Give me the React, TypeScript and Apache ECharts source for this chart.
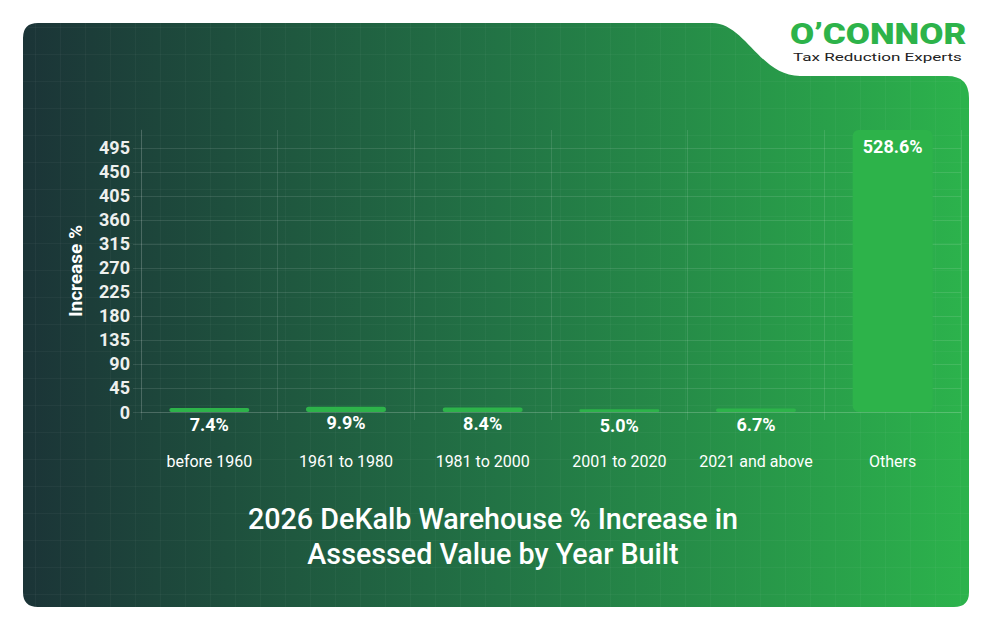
import React, { useEffect, useRef } from 'react';
import * as echarts from 'echarts';

// ---- data ----
const categories = ['before 1960', '1961 to 1980', '1981 to 2000', '2001 to 2020', '2021 and above', 'Others'];
const increasePct = [7.4, 9.9, 8.4, 5.0, 6.7, 528.6];
const yAxisMax = 528.6;
const yTickStep = 45;
const yAxisName = 'Increase %';
const titleLines = ['2026 DeKalb Warehouse % Increase in', 'Assessed Value by Year Built'];
const brandName = 'O\u2019CONNOR';
const brandTagline = 'Tax Reduction Experts';

// ---- card background with the logo notch in the top-right ----
const CARD = { left: 23, top: 23, right: 969, bottom: 607 };
const NOTCH_CURVE = [
  [712, 23],
  [745, 23],
  [760, 76],
  [800, 76],
];
const CARD_PATH =
  'M38 23 L712 23 C745 23 760 76 800 76 L947 76 Q969 76 969 98 ' +
  'L969 592 Q969 607 954 607 L38 607 Q23 607 23 592 L23 38 Q23 23 38 23 Z';

echarts.graphic.registerShape('cardShape', (echarts.graphic as any).extendPath(CARD_PATH, {}));

// sample the notch curve so the faint background grid can be trimmed to the card
const curvePts: number[][] = [];
for (let i = 0; i <= 400; i++) {
  const t = i / 400;
  const a = (1 - t) ** 3, b = 3 * (1 - t) ** 2 * t, c = 3 * (1 - t) * t * t, d = t ** 3;
  curvePts.push([
    a * NOTCH_CURVE[0][0] + b * NOTCH_CURVE[1][0] + c * NOTCH_CURVE[2][0] + d * NOTCH_CURVE[3][0],
    a * NOTCH_CURVE[0][1] + b * NOTCH_CURVE[1][1] + c * NOTCH_CURVE[2][1] + d * NOTCH_CURVE[3][1],
  ]);
}
const topAt = (x: number) => {
  if (x < 38) return 38 - Math.sqrt(225 - (38 - x) ** 2);
  if (x <= 712) return 23;
  if (x < 800) {
    const p = curvePts.find((q) => q[0] >= x);
    return p ? p[1] : 76;
  }
  if (x > 947) return 98 - Math.sqrt(Math.max(0, 484 - (x - 947) ** 2));
  return 76;
};
const bottomAt = (x: number) => {
  if (x < 38) return 592 + Math.sqrt(225 - (38 - x) ** 2);
  if (x > 954) return 592 + Math.sqrt(Math.max(0, 225 - (x - 954) ** 2));
  return 607;
};
const leftAt = (y: number) => {
  if (y < 38) return 38 - Math.sqrt(Math.max(0, 225 - (38 - y) ** 2));
  if (y > 592) return 38 - Math.sqrt(Math.max(0, 225 - (y - 592) ** 2));
  return 23;
};
const rightAt = (y: number) => {
  if (y <= 76) {
    const p = curvePts.find((q) => q[1] >= y);
    return p ? p[0] : 800;
  }
  if (y < 98) return 947 + Math.sqrt(Math.max(0, 484 - (98 - y) ** 2));
  if (y > 592) return 954 + Math.sqrt(Math.max(0, 225 - (y - 592) ** 2));
  return 969;
};

function backgroundGrid() {
  const stroke = 'rgba(255,255,255,0.035)';
  const lines: any[] = [];
  for (let x = 35; x < CARD.right; x += 25) {
    lines.push({ type: 'line', silent: true, z: -9, shape: { x1: x + 0.5, y1: topAt(x), x2: x + 0.5, y2: bottomAt(x) }, style: { stroke, lineWidth: 1 } });
  }
  for (let y = 27; y < CARD.bottom; y += 27) {
    lines.push({ type: 'line', silent: true, z: -9, shape: { x1: leftAt(y), y1: y + 0.5, x2: rightAt(y), y2: y + 0.5 }, style: { stroke, lineWidth: 1 } });
  }
  return lines;
}

const FONT = 'Roboto';
const GRID_LINE = 'rgba(255,255,255,0.11)';

export default function App() {
  const ref = useRef<HTMLDivElement>(null);

  useEffect(() => {
    if (!ref.current) return;
    const chart = echarts.init(ref.current, null, { renderer: 'svg' });

    const option: any = {
      animation: false,
      textStyle: { fontFamily: FONT },
      graphic: [
        {
          type: 'cardShape',
          x: 0,
          y: 0,
          z: -10,
          silent: true,
          style: {
            fill: new echarts.graphic.LinearGradient(0, 0, 1, 0, [
              { offset: 0, color: '#1b3437' },
              { offset: 0.5, color: '#227345' },
              { offset: 1, color: '#2cb34c' },
            ]),
          },
        },
        ...backgroundGrid(),
        {
          type: 'text',
          x: 790,
          y: 19,
          scaleX: 1.17,
          style: { text: brandName, fill: '#2db34a', font: `900 30px ${FONT}` },
        },
        {
          type: 'text',
          x: 793,
          y: 52,
          scaleX: 1.55,
          style: { text: brandTagline, fill: '#222222', font: `400 11px ${FONT}` },
        },
      ],
      title: {
        text: titleLines.join('\n'),
        left: 493,
        textAlign: 'center',
        top: 501,
        padding: 0,
        textStyle: { color: '#ffffff', fontSize: 28.7, fontWeight: 500, lineHeight: 35, fontFamily: FONT },
      },
      grid: { left: 141, right: 33, top: 130, bottom: 220 },
      xAxis: {
        type: 'category',
        data: categories,
        boundaryGap: true,
        axisLine: { show: true, lineStyle: { color: GRID_LINE } },
        axisTick: { show: true, interval: 0, length: 8, lineStyle: { color: GRID_LINE } },
        splitLine: { show: true, interval: 0, lineStyle: { color: GRID_LINE } },
        axisLabel: { interval: 0, color: '#ffffff', fontSize: 16, margin: 41, fontFamily: FONT },
      },
      yAxis: {
        type: 'value',
        min: 0,
        max: yAxisMax,
        interval: yTickStep,
        name: yAxisName,
        nameLocation: 'middle',
        nameGap: 56,
        nameTextStyle: { color: '#ffffff', fontSize: 19, fontWeight: 'bold', fontFamily: FONT },
        axisLine: { show: true, lineStyle: { color: GRID_LINE } },
        axisTick: { show: true, length: 8, lineStyle: { color: GRID_LINE } },
        splitLine: { show: true, showMaxLine: false, lineStyle: { color: GRID_LINE } },
        axisLabel: { showMaxLabel: false, color: '#eef0ee', fontSize: 18, fontWeight: 'bold', margin: 11, fontFamily: FONT },
      },
      series: [
        {
          type: 'bar',
          data: increasePct,
          barWidth: 80,
          itemStyle: { color: '#2db34a', borderRadius: 6 },
          label: {
            show: true,
            position: 'insideTop',
            distance: 7,
            color: '#ffffff',
            fontSize: 18,
            fontWeight: 'bold',
            fontFamily: FONT,
            formatter: (p: any) => `${Number(p.value).toFixed(1)}%`,
          },
        },
      ],
    };

    chart.setOption(option);
    return () => chart.dispose();
  }, []);

  return <div ref={ref} style={{ position: 'fixed', left: 0, top: 0, width: 994, height: 632, background: '#ffffff' }} />;
}
